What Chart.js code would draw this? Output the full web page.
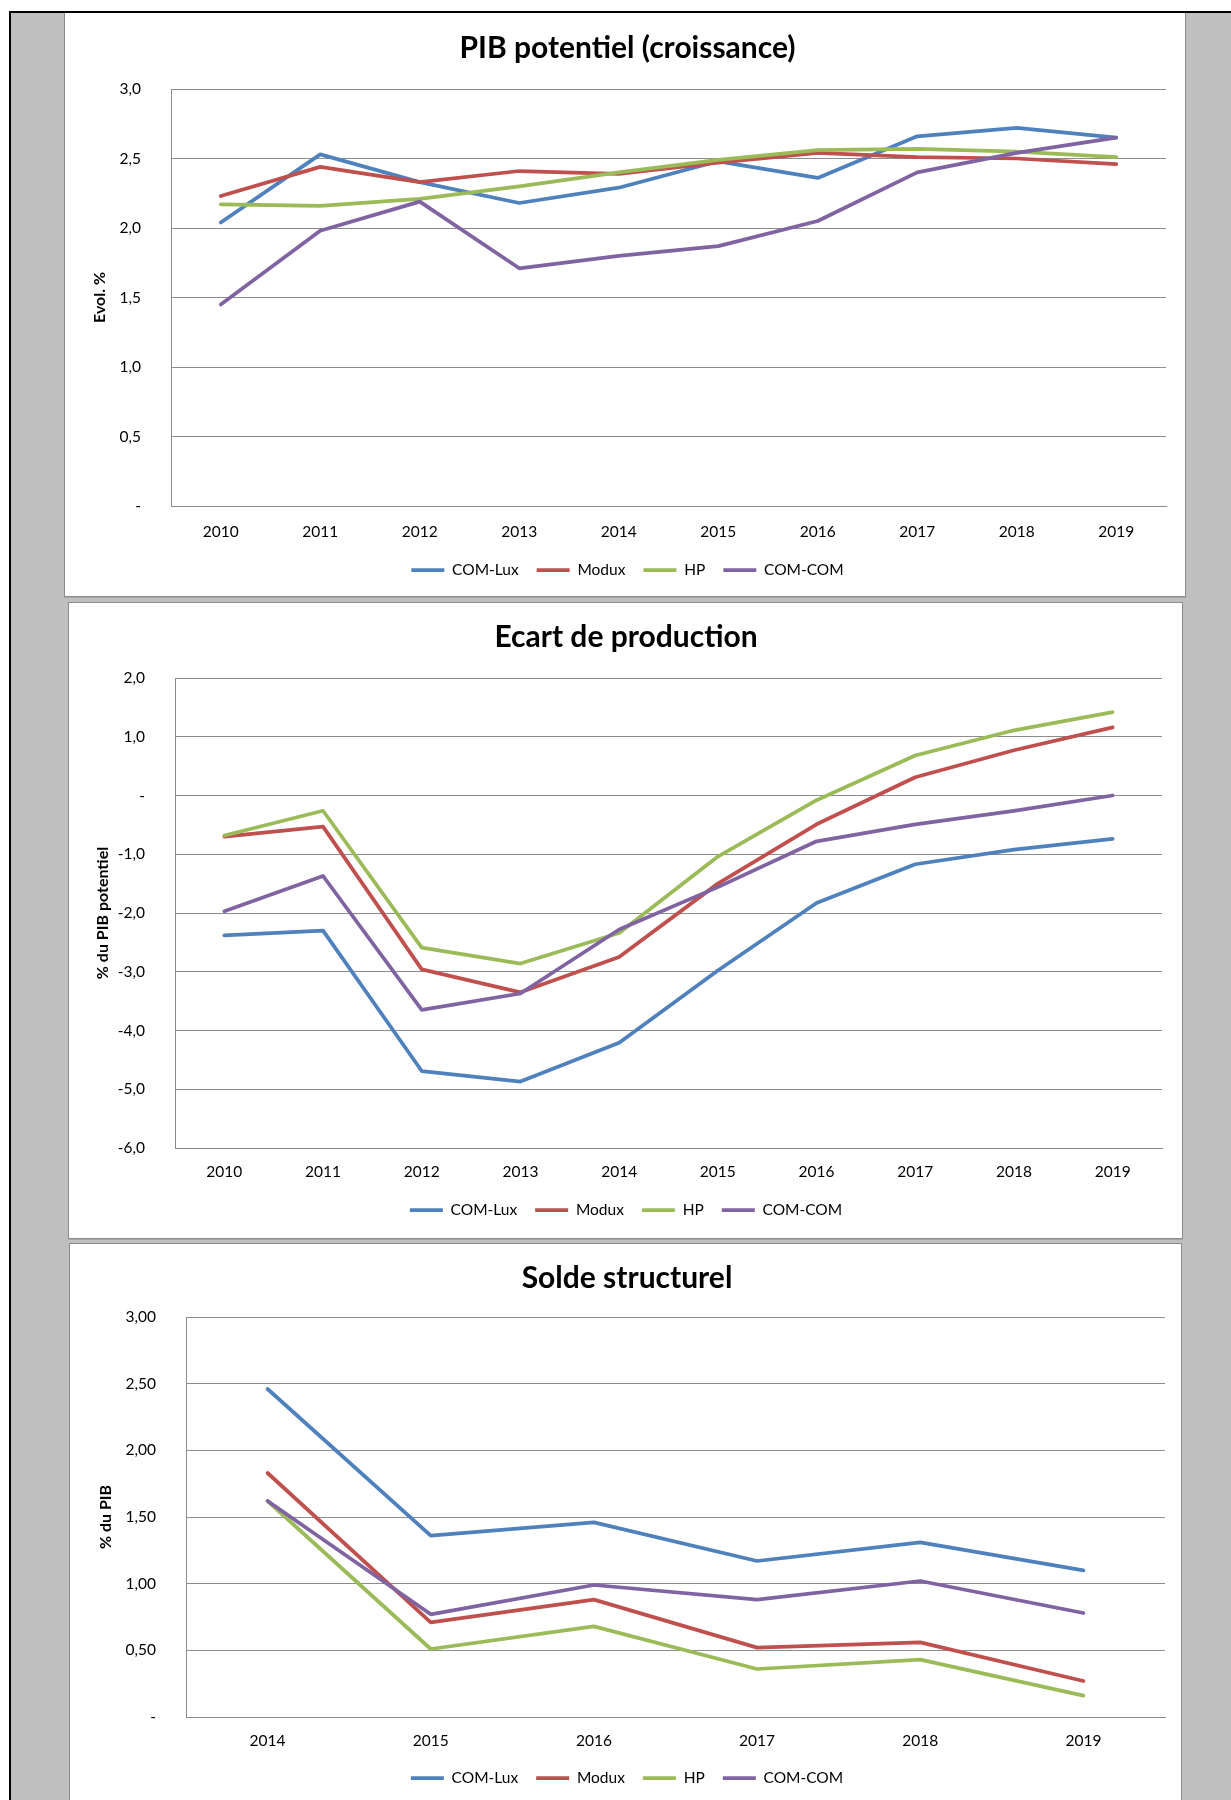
<!DOCTYPE html>
<html><head><meta charset="utf-8">
<script src="https://cdn.jsdelivr.net/npm/chart.js@4.4.1/dist/chart.umd.min.js"></script>
<style>
html,body{margin:0;padding:0;background:#fff;width:1231px;height:1800px;overflow:hidden;}
#frame{position:absolute;left:9px;top:11px;width:1220px;height:1800px;border-top:2px solid #000;border-left:2px solid #000;background:#bfbfbf;}
.panel{position:absolute;background:#fff;border:1px solid #8c8c8c;box-sizing:border-box;box-shadow:0 1px 0 #a6a6a6;}
canvas{display:block;}
</style></head><body>
<div id="frame"></div>
<div class="panel" style="left:64px;top:13px;width:1122px;height:584px;border-top:none"><canvas id="c1" width="1120" height="583"></canvas></div>
<div class="panel" style="left:68px;top:602px;width:1115px;height:637px;"><canvas id="c2" width="1113" height="635"></canvas></div>
<div class="panel" style="left:69px;top:1243px;width:1113px;height:600px;"><canvas id="c3" width="1111" height="560"></canvas></div>
<script>
// ---- data ----
const seriesNames = ['COM-Lux', 'Modux', 'HP', 'COM-COM'];
const seriesColors = ['#4F81BD', '#C0504D', '#9BBB59', '#8064A2'];

const years1 = ['2010','2011','2012','2013','2014','2015','2016','2017','2018','2019'];
const pibComLux = [2.04, 2.53, 2.33, 2.18, 2.29, 2.48, 2.36, 2.66, 2.72, 2.65];
const pibModux  = [2.23, 2.44, 2.33, 2.41, 2.39, 2.47, 2.54, 2.51, 2.50, 2.46];
const pibHP     = [2.17, 2.16, 2.21, 2.30, 2.40, 2.49, 2.56, 2.57, 2.55, 2.51];
const pibComCom = [1.45, 1.98, 2.19, 1.71, 1.80, 1.87, 2.05, 2.40, 2.54, 2.65];

const years2 = ['2010','2011','2012','2013','2014','2015','2016','2017','2018','2019'];
const ecartComLux = [-2.38, -2.30, -4.69, -4.87, -4.21, -2.98, -1.83, -1.17, -0.92, -0.74];
const ecartModux  = [-0.70, -0.53, -2.96, -3.35, -2.75, -1.50, -0.49, 0.31, 0.77, 1.16];
const ecartHP     = [-0.68, -0.26, -2.59, -2.86, -2.34, -1.04, -0.08, 0.68, 1.11, 1.42];
const ecartComCom = [-1.97, -1.37, -3.65, -3.37, -2.28, -1.56, -0.78, -0.49, -0.26, 0.00];

const years3 = ['2014','2015','2016','2017','2018','2019'];
const soldeComLux = [2.46, 1.36, 1.46, 1.17, 1.31, 1.10];
const soldeModux  = [1.83, 0.71, 0.88, 0.52, 0.56, 0.27];
const soldeHP     = [1.62, 0.51, 0.68, 0.36, 0.43, 0.16];
const soldeComCom = [1.62, 0.77, 0.99, 0.88, 1.02, 0.78];

const titles = ['PIB potentiel (croissance)', 'Ecart de production', 'Solde structurel'];
const yTitles = ['Evol. %', '% du PIB potentiel', '% du PIB'];

// ---- chart builder ----
const FONT = 'Lato, "Open Sans", sans-serif';
const GRID = '#8c8c8c';

function makeChart(id, labels, series, cfg) {
  const datasets = series.map((vals, i) => ({
    label: seriesNames[i],
    data: vals,
    borderColor: seriesColors[i],
    backgroundColor: seriesColors[i],
    borderWidth: 3.75,
    pointRadius: 0,
    pointHoverRadius: 0,
    tension: 0,
    fill: false,
    borderCapStyle: 'round',
    borderJoinStyle: 'round',
    order: series.length - 1 - i
  }));
  return new Chart(document.getElementById(id), {
    type: 'line',
    data: { labels, datasets },
    options: {
      responsive: false,
      animation: false,
      events: [],
      layout: { padding: { left: cfg.lp, right: cfg.rp, top: 0, bottom: cfg.lpb } },
      plugins: {
        title: {
          display: true, text: cfg.title, color: '#000',
          font: { family: FONT, size: 30, weight: 'bold', lineHeight: 1.2 },
          padding: { top: cfg.tpt, bottom: cfg.tpb }
        },
        legend: {
          position: 'bottom',
          labels: {
            usePointStyle: true, pointStyle: 'line', pointStyleWidth: 33,
            padding: 18, color: '#000',
            font: { family: FONT, size: 15.5 },
            sort: (a, b) => a.datasetIndex - b.datasetIndex
          }
        },
        tooltip: { enabled: false }
      },
      scales: {
        x: {
          offset: true,
          grid: { display: false, drawTicks: false },
          border: { display: true, color: GRID, width: 1 },
          ticks: { color: '#000', font: { family: FONT, size: 15.5 }, padding: cfg.xpad, maxRotation: 0, autoSkip: false },
          afterFit: s => { s.height = cfg.xh; }
        },
        y: {
          min: cfg.min, max: cfg.max,
          grid: { color: GRID, lineWidth: 1, drawTicks: false },
          border: { display: true, color: GRID, width: 1 },
          ticks: {
            stepSize: cfg.step, color: '#000', padding: 30,
            font: { family: FONT, size: 15.5 },
            callback: v => Math.abs(v) < 1e-9 ? '-' : Number(v).toFixed(cfg.dec).replace('.', ',')
          },
          title: {
            display: true, text: cfg.ytitle, color: '#000',
            font: { family: FONT, size: 16, weight: 'bold', lineHeight: 1.2 },
            padding: { top: cfg.ytp, bottom: 0 }
          },
          afterFit: s => { s.width = cfg.yw; }
        }
      }
    }
  });
}

// legend bottom padding is tied to legend item padding (18): center = H - lpb - (15.5+18+10) + 18 + 7.75
makeChart('c1', years1, [pibComLux, pibModux, pibHP, pibComCom], {
  title: titles[0], ytitle: yTitles[0], min: 0, max: 3, step: 0.5, dec: 1,
  lp: 24, rp: 19, lpb: 8.25, tpt: 17, tpb: 23, xh: 38.25, xpad: 16.7, yw: 82, ytp: 1.4
});
makeChart('c2', years2, [ecartComLux, ecartModux, ecartHP, ecartComCom], {
  title: titles[1], ytitle: yTitles[1], min: -6, max: 2, step: 1, dec: 1,
  lp: 21, rp: 20, lpb: 10.25, tpt: 16, tpb: 23, xh: 36.25, xpad: 14.7, yw: 85, ytp: 3.4
});
makeChart('c3', years3, [soldeComLux, soldeModux, soldeHP, soldeComCom], {
  title: titles[2], ytitle: yTitles[2], min: 0, max: 3, step: 0.5, dec: 2,
  lp: 19, rp: 16, lpb: 8.25, tpt: 16, tpb: 21, xh: 35.25, xpad: 14.7, yw: 97, ytp: 7.4
});
</script>
</body></html>
